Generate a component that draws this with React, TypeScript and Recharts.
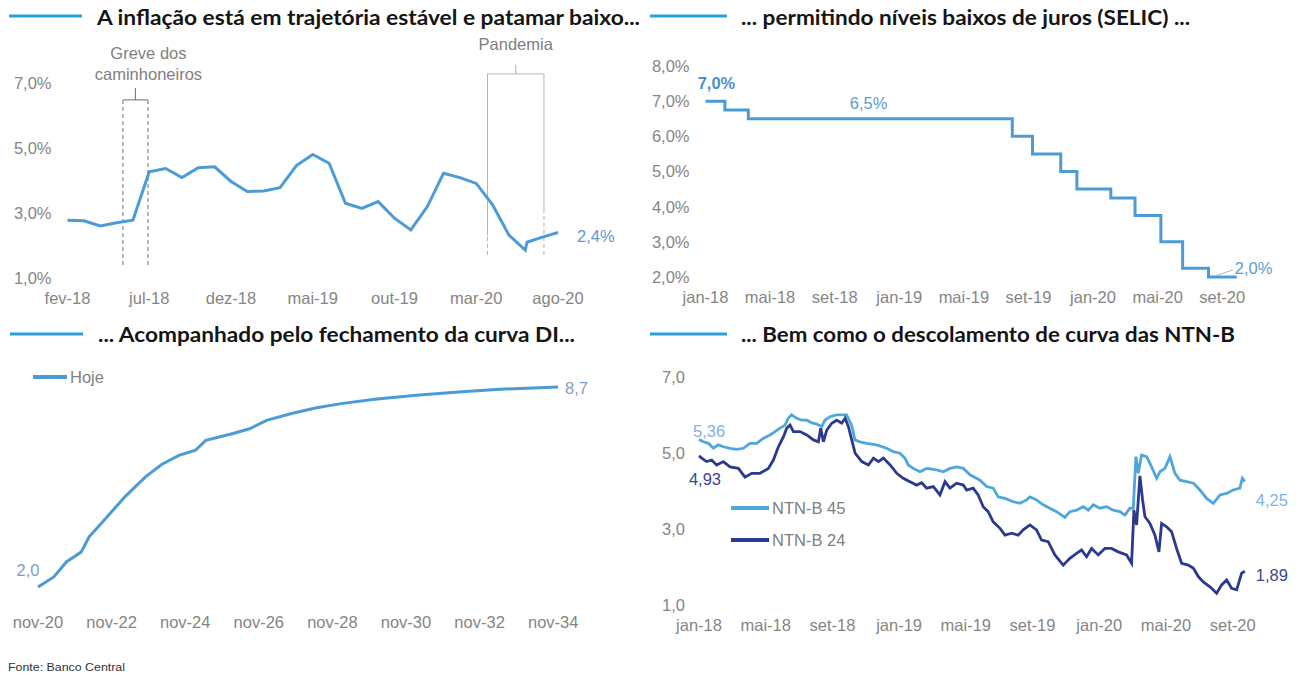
import React from "react"
import { LineChart, Line, XAxis, YAxis, ReferenceLine, ReferenceDot } from "recharts"

const FONT = "'Liberation Sans', Arial, sans-serif"
const TITLE_FONT = "Lato, 'Open Sans', sans-serif"
const TICK_COLOR = "#858585"
const BAR_BLUE = "#2c9fd9"
const LINE_BLUE = "#4b9bd6"
const LABEL_BLUE = "#5b9bd5"
const NAVY = "#2b3a8f"
const LIGHT = "#4ea6dd"

// ---------- IPCA 12m (fev-18 .. ago-20), x = meses desde fev-18
const inflationTickLabels = ["fev-18", "jul-18", "dez-18", "mai-19", "out-19", "mar-20", "ago-20"]
const inflationMonth = [
  0, 1, 2, 3, 4, 5, 6, 7, 8, 9, 10, 11, 12, 13, 14, 15, 16, 17, 18, 19, 20, 21, 22, 23, 24, 25,
  26, 27, 28, 28.1, 29, 30,
]
const inflationValue = [
  2.78, 2.76, 2.6, 2.7, 2.78, 4.27, 4.37, 4.09, 4.39, 4.42, 3.97, 3.66, 3.68, 3.78, 4.46, 4.8,
  4.53, 3.3, 3.14, 3.35, 2.84, 2.48, 3.19, 4.22, 4.09, 3.91, 3.25, 2.32, 1.86, 2.1, 2.25, 2.4,
]
const greveFrom = 3.39
const greveTo = 4.92
const pandemiaFrom = 25.69
const pandemiaTo = 29.14

// ---------- SELIC, x = meses desde jan-18
const selicTickLabels = ["jan-18", "mai-18", "set-18", "jan-19", "mai-19", "set-19", "jan-20", "mai-20", "set-20"]
const selicMonth = [0, 1.2, 2.65, 19.0, 20.25, 22.0, 23.0, 25.1, 26.6, 28.2, 29.55, 31.15, 32.9]
const selicValue = [7.0, 6.75, 6.5, 6.0, 5.5, 5.0, 4.5, 4.25, 3.75, 3.0, 2.25, 2.0, 2.0]

// ---------- Curva DI, x = anos desde nov-20
const diTickLabels = ["nov-20", "nov-22", "nov-24", "nov-26", "nov-28", "nov-30", "nov-32", "nov-34"]
const diName = "Hoje"
const diYear = [
  0, 0.43, 0.77, 1.17, 1.39, 1.79, 2.36, 2.92, 3.37, 3.83, 4.28, 4.56, 5.3, 5.75, 6.21, 6.89, 7.57,
  8.24, 9.15, 10.28, 11.42, 12.55, 14.13,
]
const diValue = [
  2.0, 2.34, 2.84, 3.17, 3.68, 4.23, 5.02, 5.69, 6.11, 6.41, 6.58, 6.91, 7.14, 7.3, 7.58, 7.81, 8.0,
  8.14, 8.29, 8.42, 8.53, 8.62, 8.7,
]

// ---------- NTN-B, x = meses desde jan-18
const ntnbTickLabels = selicTickLabels
const ntnbNames = ["NTN-B 45", "NTN-B 24"]
const ntnb45Month = [
  0, 0.26, 0.56, 0.86, 1.16, 1.46, 1.86, 2.26, 2.66, 3.06, 3.46, 3.85, 4.26, 4.56, 4.86, 5.16, 5.35,
  5.56, 5.86, 6.16, 6.46, 6.76, 7.06, 7.36, 7.55, 7.85, 8.26, 8.85, 9.15, 9.35, 9.65, 10.05, 10.65,
  11.25, 11.65, 12.05, 12.35, 12.55, 12.85, 13.25, 13.65, 14.25, 14.65, 15.05, 15.45, 15.85, 16.25,
  16.85, 17.25, 17.64, 17.94, 18.35, 18.84, 19.24, 19.65, 19.84, 20.24, 20.64, 21.04, 21.44, 21.94,
  22.24, 22.64, 23.04, 23.34, 23.64, 24.04, 24.44, 24.84, 25.24, 25.54, 25.84, 26.04, 26.2, 26.34,
  26.54, 26.84, 27.14, 27.44, 27.64, 27.94, 28.24, 28.54, 28.84, 29.24, 29.65, 30.04, 30.44, 30.84,
  31.24, 31.64, 32.03, 32.43, 32.58, 32.73,
]
const ntnb45Value = [
  5.36, 5.3, 5.26, 5.13, 5.22, 5.17, 5.13, 5.1, 5.13, 5.26, 5.26, 5.39, 5.48, 5.57, 5.66, 5.74, 5.92,
  6.01, 5.92, 5.87, 5.87, 5.8, 5.77, 5.7, 5.87, 5.96, 6.01, 6.01, 5.74, 5.35, 5.3, 5.26, 5.22,
  5.13, 5.04, 5.0, 4.87, 4.69, 4.6, 4.51, 4.6, 4.56, 4.51, 4.6, 4.64, 4.6, 4.43,
  4.29, 4.12, 4.08, 3.85, 3.81, 3.72, 3.68, 3.77, 3.85, 3.77, 3.64, 3.55, 3.46, 3.31,
  3.46, 3.5, 3.59, 3.5, 3.64, 3.55, 3.59, 3.5, 3.46, 3.37, 3.55, 3.55, 4.91, 4.47,
  4.95, 4.91, 4.64, 4.34, 4.51, 4.6, 4.91, 4.47, 4.29, 4.25, 4.21, 4.03, 3.81, 3.68,
  3.9, 3.94, 4.03, 4.08, 4.34, 4.25,
]
const ntnb24Month = [
  0, 0.16, 0.46, 0.76, 1.06, 1.46, 1.86, 2.36, 2.76, 3.16, 3.66, 4.16, 4.46, 4.76, 5.06, 5.26, 5.46,
  5.66, 6.06, 6.46, 6.86, 7.16, 7.3, 7.46, 7.66, 7.96, 8.26, 8.56, 8.76, 8.96, 9.16, 9.36, 9.76,
  10.16, 10.46, 10.76, 11.06, 11.46, 11.86, 12.25, 12.65, 13.05, 13.35, 13.65, 14.05, 14.45, 14.75,
  15.05, 15.45, 15.85, 16.05, 16.44, 16.74, 17.04, 17.34, 17.64, 18.05, 18.35, 18.75, 19.14, 19.44,
  19.84, 20.24, 20.54, 20.94, 21.34, 21.84, 22.24, 22.64, 22.94, 23.24, 23.54, 23.94, 24.34, 24.74,
  25.14, 25.64, 25.94, 26.08, 26.24, 26.44, 26.6, 26.74, 27.04, 27.34, 27.58, 27.74, 28.04, 28.34,
  28.64, 28.94, 29.34, 29.65, 29.94, 30.24, 30.64, 31.04, 31.34, 31.64, 31.94, 32.24, 32.54, 32.73,
]
const ntnb24Value = [
  4.93, 4.87, 4.78, 4.82, 4.69, 4.78, 4.64, 4.6, 4.37, 4.47, 4.47, 4.6, 4.82, 5.17, 5.43, 5.66, 5.74,
  5.57, 5.57, 5.48, 5.35, 5.3, 5.66, 5.3, 5.61, 5.79, 5.87, 5.79, 5.92, 5.7, 5.35, 5.0, 4.78,
  4.69, 4.87, 4.78, 4.87, 4.69, 4.47, 4.34, 4.25, 4.16, 4.22, 4.08, 4.12, 3.9, 4.25,
  4.08, 4.21, 4.16, 4.03, 4.08, 3.9, 3.59, 3.46, 3.19, 3.02, 2.84, 2.89, 2.84, 2.98,
  3.11, 2.98, 2.71, 2.67, 2.32, 2.05, 2.23, 2.36, 2.45, 2.27, 2.49, 2.32, 2.49, 2.49,
  2.4, 2.32, 2.1, 3.5, 3.11, 4.4, 3.77, 3.33, 3.15, 2.84, 2.4, 3.15, 3.06, 2.93,
  2.49, 2.1, 2.05, 1.97, 1.75, 1.61, 1.48, 1.31, 1.53, 1.66, 1.44, 1.4, 1.84, 1.89,
]

const titles = [
  { text: "A inflação está em trajetória estável e patamar baixo...", x: 97, y: 25, len: 543, bar: [9, 82, 16] },
  { text: "... permitindo níveis baixos de juros (SELIC) ...", x: 741, y: 25, len: 449, bar: [650, 727, 16] },
  { text: "... Acompanhado pelo fechamento da curva DI...", x: 98, y: 342, len: 477, bar: [10, 83, 334] },
  { text: "... Bem como o descolamento de curva das NTN-B", x: 741, y: 342, len: 494, bar: [650, 727, 334] },
]

const zip = (xs: number[], ys: number[]) => xs.map((x, i) => ({ x, y: ys[i] }))
const br = (v: number, d = 1) => v.toFixed(d).replace(".", ",")
const tickStyle = { fill: TICK_COLOR, fontSize: 16.5, fontFamily: FONT }

function InflationChart() {
  const data = zip(inflationMonth, inflationValue)
  const last = data.length - 1
  const grey = "#6f6f6f"
  const light = "#b3b3b3"
  return (
    <LineChart width={650} height={320} data={data} margin={{ top: 50.5, right: 92, bottom: 12, left: 0 }}>
      <XAxis
        type="number"
        dataKey="x"
        domain={[0, 30]}
        ticks={[0, 5, 10, 15, 20, 25, 30]}
        interval={0}
        tickFormatter={(v) => inflationTickLabels[Math.round(v / 5)]}
        axisLine={false}
        tickLine={false}
        tick={tickStyle}
        tickMargin={8}
        height={30}
      />
      <YAxis
        type="number"
        domain={[1, 8]}
        ticks={[1, 3, 5, 7]}
        interval={0}
        tickFormatter={(v) => br(v) + "%"}
        axisLine={false}
        tickLine={false}
        tick={tickStyle}
        tickMargin={10}
        width={67.5}
      />
      {/* Greve dos caminhoneiros */}
      <ReferenceLine segment={[{ x: greveFrom, y: 1.4 }, { x: greveFrom, y: 6.48 }]} stroke={grey} strokeDasharray="4 3" />
      <ReferenceLine segment={[{ x: greveTo, y: 1.4 }, { x: greveTo, y: 6.48 }]} stroke={grey} strokeDasharray="4 3" />
      <ReferenceLine segment={[{ x: greveFrom, y: 6.48 }, { x: greveTo, y: 6.48 }]} stroke={grey} />
      <ReferenceLine
        segment={[{ x: (greveFrom + greveTo) / 2, y: 6.48 }, { x: (greveFrom + greveTo) / 2, y: 6.85 }]}
        stroke={grey}
        label={({ viewBox }: any) => (
          <g fill="#808080" fontSize={16.5} fontFamily={FONT} textAnchor="middle">
            <text x={viewBox.x + 13} y={viewBox.y - 29}>Greve dos</text>
            <text x={viewBox.x + 13} y={viewBox.y - 8}>caminhoneiros</text>
          </g>
        )}
      />
      {/* Pandemia */}
      <ReferenceLine segment={[{ x: pandemiaFrom, y: 2.3 }, { x: pandemiaFrom, y: 7.28 }]} stroke={light} />
      <ReferenceLine segment={[{ x: pandemiaFrom, y: 1.71 }, { x: pandemiaFrom, y: 2.3 }]} stroke={light} strokeDasharray="4 3" />
      <ReferenceLine segment={[{ x: pandemiaTo, y: 3.0 }, { x: pandemiaTo, y: 7.28 }]} stroke={light} />
      <ReferenceLine segment={[{ x: pandemiaTo, y: 1.71 }, { x: pandemiaTo, y: 3.0 }]} stroke={light} strokeDasharray="4 3" />
      <ReferenceLine segment={[{ x: pandemiaFrom, y: 7.28 }, { x: pandemiaTo, y: 7.28 }]} stroke={light} />
      <ReferenceLine
        segment={[{ x: (pandemiaFrom + pandemiaTo) / 2, y: 7.28 }, { x: (pandemiaFrom + pandemiaTo) / 2, y: 7.55 }]}
        stroke={light}
        label={({ viewBox }: any) => (
          <text x={viewBox.x} y={viewBox.y - 15} fill="#808080" fontSize={16.5} fontFamily={FONT} textAnchor="middle">
            Pandemia
          </text>
        )}
      />
      <Line
        dataKey="y"
        type="linear"
        stroke={LINE_BLUE}
        strokeWidth={3}
        dot={false}
        isAnimationActive={false}
        label={(p: any) =>
          p.index === last ? (
            <text x={p.x + 19} y={p.y + 9} fill={LABEL_BLUE} fontSize={16.5} fontFamily={FONT}>
              {br(p.value) + "%"}
            </text>
          ) : null
        }
      />
    </LineChart>
  )
}

function SelicChart() {
  const data = zip(selicMonth, selicValue)
  const last = data.length - 1
  return (
    <LineChart width={649} height={320} data={data} margin={{ top: 66, right: 44.5, bottom: 13, left: 0 }}>
      <XAxis
        type="number"
        dataKey="x"
        domain={[0, 34]}
        ticks={[0, 4, 8, 12, 16, 20, 24, 28, 32]}
        interval={0}
        tickFormatter={(v) => selicTickLabels[Math.round(v / 4)]}
        axisLine={false}
        tickLine={false}
        tick={tickStyle}
        tickMargin={8}
        height={30}
      />
      <YAxis
        type="number"
        domain={[2, 8]}
        ticks={[2, 3, 4, 5, 6, 7, 8]}
        interval={0}
        tickFormatter={(v) => br(v) + "%"}
        axisLine={false}
        tickLine={false}
        tick={tickStyle}
        tickMargin={10}
        width={55.5}
      />
      <ReferenceDot
        x={10.1}
        y={6.5}
        r={0}
        stroke="none"
        label={({ viewBox }: any) => (
          <text x={viewBox.x + viewBox.width / 2} y={viewBox.y - 10} fill={LABEL_BLUE} fontSize={16.5} fontFamily={FONT} textAnchor="middle">
            6,5%
          </text>
        )}
      />
      <Line
        dataKey="y"
        type="stepAfter"
        stroke={LINE_BLUE}
        strokeWidth={3}
        dot={false}
        isAnimationActive={false}
        label={(p: any) => {
          if (p.index === 0)
            return (
              <text x={p.x + 11} y={p.y - 12} fill="#4a8fd0" fontWeight={700} fontSize={16.5} fontFamily={FONT} textAnchor="middle">
                {br(p.value) + "%"}
              </text>
            )
          if (p.index === last)
            return (
              <g>
                <line x1={p.x - 22} y1={p.y - 1} x2={p.x - 4} y2={p.y - 7} stroke="#9bb8d8" strokeWidth={1} />
                <text x={p.x - 2} y={p.y - 3} fill={LABEL_BLUE} fontSize={16.5} fontFamily={FONT}>
                  {br(p.value) + "%"}
                </text>
              </g>
            )
          return null
        }}
      />
    </LineChart>
  )
}

function LegendRow({ color, name, lineW, h }: { color: string; name: string; lineW: number; h: number }) {
  return (
    <div style={{ display: "flex", alignItems: "center", height: h }}>
      <div style={{ width: lineW, height: 4, background: color, marginRight: 3 }} />
      <span style={{ color: "#808080", fontSize: 16.5, fontFamily: FONT, lineHeight: "18px" }}>{name}</span>
    </div>
  )
}

function DiChart() {
  const data = zip(diYear, diValue)
  const last = data.length - 1
  return (
    <LineChart width={650} height={355} data={data} margin={{ top: 43, right: 78.4, bottom: 43, left: 38 }}>
      <XAxis
        type="number"
        dataKey="x"
        domain={[0, 14.5]}
        ticks={[0, 2, 4, 6, 8, 10, 12, 14]}
        interval={0}
        tickFormatter={(v) => diTickLabels[Math.round(v / 2)]}
        axisLine={false}
        tickLine={false}
        tick={tickStyle}
        tickMargin={8}
        height={30}
      />
      <YAxis type="number" domain={[1.5, 9.5]} hide />
      <Line
        dataKey="y"
        name={diName}
        type="linear"
        stroke={LINE_BLUE}
        strokeWidth={3}
        dot={false}
        isAnimationActive={false}
        label={(p: any) => {
          if (p.index === 0)
            return (
              <text x={p.x - 10} y={p.y - 11} fill="#7f9dc4" fontSize={16.5} fontFamily={FONT} textAnchor="middle">
                {br(p.value)}
              </text>
            )
          if (p.index === last)
            return (
              <text x={p.x + 7} y={p.y + 7} fill="#7f9dc4" fontSize={16.5} fontFamily={FONT}>
                {br(p.value)}
              </text>
            )
          return null
        }}
      />
    </LineChart>
  )
}

function NtnbChart() {
  const d45 = zip(ntnb45Month, ntnb45Value)
  const d24 = zip(ntnb24Month, ntnb24Value)
  const end45 = d45.length - 1
  const end24 = d24.length - 1
  return (
    <LineChart width={649} height={355} margin={{ top: 57.3, right: 33, bottom: 40, left: 0 }}>
      <XAxis
        type="number"
        dataKey="x"
        domain={[0, 34]}
        ticks={[0, 4, 8, 12, 16, 20, 24, 28, 32]}
        interval={0}
        tickFormatter={(v) => ntnbTickLabels[Math.round(v / 4)]}
        axisLine={false}
        tickLine={false}
        tick={tickStyle}
        tickMargin={8}
        height={30}
        allowDuplicatedCategory={false}
      />
      <YAxis
        type="number"
        domain={[1, 7]}
        ticks={[1, 3, 5, 7]}
        interval={0}
        tickFormatter={(v) => br(v)}
        axisLine={false}
        tickLine={false}
        tick={tickStyle}
        tickMargin={8}
        width={49}
      />
      <Line
        data={d45}
        dataKey="y"
        name={ntnbNames[0]}
        type="linear"
        stroke={LIGHT}
        strokeWidth={2.8}
        dot={false}
        isAnimationActive={false}
        label={(p: any) => {
          if (p.index === 0)
            return (
              <text x={p.x - 6} y={p.y - 3} fill="#7fb2df" fontSize={16.5} fontFamily={FONT}>
                {br(p.value, 2)}
              </text>
            )
          if (p.index === end45)
            return (
              <text x={p.x + 11} y={p.y + 24} fill="#7fb2df" fontSize={16.5} fontFamily={FONT}>
                {br(p.value, 2)}
              </text>
            )
          return null
        }}
      />
      <Line
        data={d24}
        dataKey="y"
        name={ntnbNames[1]}
        type="linear"
        stroke={NAVY}
        strokeWidth={2.8}
        dot={false}
        isAnimationActive={false}
        label={(p: any) => {
          if (p.index === 0)
            return (
              <text x={p.x + 6} y={p.y + 29} fill="#3a4690" fontSize={16.5} fontFamily={FONT} textAnchor="middle">
                {br(p.value, 2)}
              </text>
            )
          if (p.index === end24)
            return (
              <text x={p.x + 11} y={p.y + 10} fill="#3a4690" fontSize={16.5} fontFamily={FONT}>
                {br(p.value, 2)}
              </text>
            )
          return null
        }}
      />
    </LineChart>
  )
}

export default function App() {
  const box = (left: number, top: number): React.CSSProperties => ({ position: "absolute", left, top })
  return (
    <div style={{ position: "absolute", left: 0, top: 0, width: 1299, height: 675, background: "#fff", overflow: "hidden" }}>
      <div style={box(0, 0)}>
        <InflationChart />
      </div>
      <div style={box(650, 0)}>
        <SelicChart />
      </div>
      <div style={box(0, 320)}>
        <DiChart />
      </div>
      <div style={box(650, 320)}>
        <NtnbChart />
      </div>
      {/* legendas */}
      <div style={box(33, 365)}>
        <LegendRow color={LINE_BLUE} name={diName} lineW={34} h={24} />
      </div>
      <div style={box(731, 492)}>
        <LegendRow color={LIGHT} name={ntnbNames[0]} lineW={38} h={32} />
        <LegendRow color={NAVY} name={ntnbNames[1]} lineW={38} h={32} />
      </div>
      <svg width={1299} height={675} style={{ position: "absolute", left: 0, top: 0, pointerEvents: "none" }}>
        {titles.map((t) => (
          <g key={t.text}>
            <line x1={t.bar[0]} x2={t.bar[1]} y1={t.bar[2]} y2={t.bar[2]} stroke={BAR_BLUE} strokeWidth={3} />
            <text
              x={t.x}
              y={t.y}
              fill="#151515"
              fontFamily={TITLE_FONT}
              fontWeight={700}
              fontSize={21}
              textLength={t.len}
              lengthAdjust="spacingAndGlyphs"
            >
              {t.text}
            </text>
          </g>
        ))}
        <text x={8} y={671} fill="#333" fontFamily={FONT} fontSize={11.5} textLength={117} lengthAdjust="spacingAndGlyphs">
          Fonte: Banco Central
        </text>
      </svg>
    </div>
  )
}
